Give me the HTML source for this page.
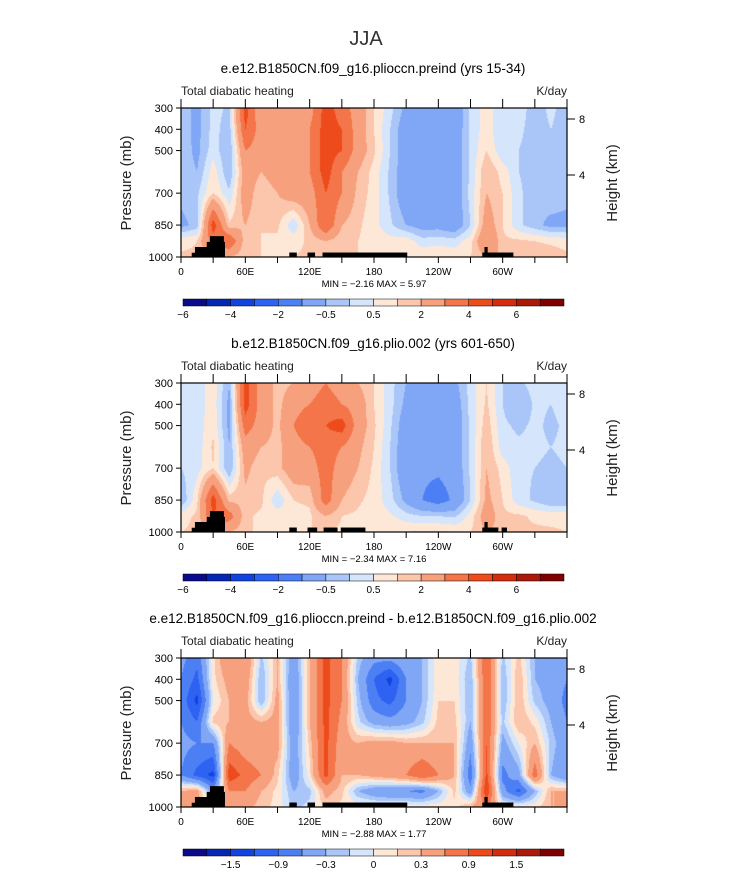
<!DOCTYPE html>
<html><head><meta charset="utf-8">
<style>
html,body{margin:0;padding:0;background:#fff;width:733px;height:888px;overflow:hidden;font-family:"Liberation Sans",sans-serif;}
#root{position:relative;width:733px;height:888px;}
canvas{position:absolute;}
svg{position:absolute;left:0;top:0;}
</style></head>
<body>
<div id="root">
<svg id="svg" width="733" height="888"></svg>
</div>
<script>
// ---- data ----
const lons = [0,15,30,45,60,75,90,105,120,135,150,165,180,195,210,225,240,255,270,285,300,315,330,345,360];
const levels = [300,400,500,600,700,850,925,1000];
const p1 = [
[-0.7,-1.2,-0.3,-0.6,3.5,1.0,1.5,1.0,1.5,3.5,2.5,1.5,0.5,-0.3,-1.2,-1.7,-1.7,-1.7,-0.4,0.3,-0.5,-0.3,-0.7,-0.4,-0.7],
[-0.7,-1.2,-0.3,-0.8,3.0,1.5,1.5,1.5,2.0,3.5,3.0,1.5,0.5,-0.5,-1.5,-1.7,-1.7,-1.6,-0.4,0.3,-0.5,-0.4,-0.7,-0.5,-0.7],
[-0.6,-1.2,-0.2,-1.0,2.0,1.5,1.0,1.5,2.0,3.5,3.0,1.5,0.6,-0.5,-1.5,-1.8,-1.7,-1.6,-0.4,0.5,-0.4,-0.5,-0.7,-0.6,-0.6],
[-0.6,-1.0,0.3,-1.0,1.5,1.0,1.5,1.5,2.0,3.5,2.0,1.0,0.3,-0.6,-1.5,-1.8,-1.8,-1.6,-0.4,1.0,0.3,-0.5,-0.7,-0.6,-0.6],
[-0.8,-0.6,0.5,-0.4,1.5,0.5,1.0,1.5,1.5,3.0,2.0,0.8,0.3,-0.6,-1.6,-1.8,-1.8,-1.6,-0.3,1.0,0.5,-0.4,-0.8,-0.6,-0.8],
[-1.2,-0.8,3.5,0.6,1.0,0.5,0.6,-0.4,1.0,3.0,1.0,0.6,0.2,-0.4,-1.0,-1.3,-1.3,-1.6,-0.5,1.5,0.5,-0.4,-0.8,-1.2,-1.2],
[0.3,0.5,2.5,3.0,0.6,0.5,0.4,0.3,0.6,1.0,0.6,0.5,0.3,0.2,0.3,-0.3,-0.2,-0.3,0.3,2.0,0.6,0.6,0.5,0.4,0.3],
[0.6,0.6,0.6,1.0,0.6,0.5,0.5,0.5,0.6,0.6,0.6,0.5,0.5,0.5,0.5,0.5,0.5,0.4,0.5,1.0,1.0,1.0,0.8,0.8,0.6]];
const p2 = [
[-0.3,-0.3,0.3,-1.0,3.5,1.5,0.8,1.0,1.5,2.0,1.5,1.0,0.5,-0.3,-1.0,-1.5,-1.5,-1.2,-0.3,0.5,-0.5,-0.6,-0.3,-0.5,-0.3],
[-0.3,-0.3,0.3,-1.2,3.5,1.5,0.8,1.5,2.0,2.5,2.0,1.5,0.5,-0.3,-1.2,-1.7,-1.7,-1.5,-0.3,0.6,-0.5,-1.0,-0.4,-0.5,-0.3],
[-0.3,-0.3,0.4,-1.2,2.5,1.5,0.8,2.0,3.0,3.0,3.5,1.5,0.6,-0.4,-1.5,-1.8,-1.8,-1.6,-0.4,0.8,-0.4,-0.6,-0.4,-0.6,-0.4],
[-0.4,-0.3,0.6,-1.0,1.5,1.0,0.8,1.5,2.0,2.5,2.0,1.2,0.5,-0.5,-1.6,-1.8,-1.8,-1.6,-0.4,1.0,-0.3,-0.4,-0.4,-0.5,-0.4],
[-0.5,-0.2,0.5,-1.0,1.2,0.6,0.8,1.5,1.5,2.5,1.5,1.0,0.4,-0.5,-1.7,-1.8,-1.8,-1.6,-0.4,1.0,0.3,-0.4,-0.5,-0.6,-0.5],
[-1.0,0.4,3.5,0.8,0.8,0.6,-0.4,0.5,0.6,2.5,1.0,0.6,0.3,-0.3,-1.2,-2.0,-2.5,-1.8,-0.5,1.2,0.5,-0.3,-0.6,-1.0,-1.0],
[0.3,0.6,3.0,2.5,0.6,0.4,0.3,0.3,0.4,1.0,0.5,0.4,0.3,0.1,-0.3,-0.5,-0.5,-0.6,0.2,1.5,0.6,0.6,0.4,0.3,0.3],
[0.5,0.6,0.6,1.0,0.6,0.4,0.4,0.4,0.5,0.5,0.4,0.4,0.4,0.5,0.5,0.6,0.6,0.5,0.5,1.0,0.8,0.6,0.6,0.6,0.5]];
const p3 = [
[-0.5,-0.8,0.1,0.6,0.6,-0.2,0.3,-0.5,0.3,1.0,0.6,-0.2,-0.5,-0.5,-0.3,-0.3,0.1,0.1,-0.2,0.9,-0.2,0.2,-0.3,-0.4,-0.5],
[-0.6,-1.0,0.1,0.4,0.5,-0.3,0.3,-0.6,0.3,1.0,0.6,-0.3,-0.9,-1.3,-0.6,-0.3,0.1,0.1,-0.3,0.9,-0.3,0.3,-0.3,-0.4,-0.6],
[-0.7,-1.3,0.0,0.3,0.4,-0.3,0.4,-0.6,0.3,1.0,0.6,-0.2,-0.8,-1.0,-0.6,-0.3,0.15,0.15,-0.3,0.9,-0.3,0.3,-0.2,-0.4,-0.7],
[-0.6,-0.9,0.2,0.3,0.4,0.3,0.4,-0.6,0.3,1.0,0.5,-0.1,-0.4,-0.5,-0.4,-0.2,0.2,0.2,-0.3,0.9,-0.2,0.3,0.1,-0.3,-0.6],
[-0.5,-0.6,-0.6,0.6,0.4,0.3,0.4,-0.5,0.2,1.0,0.4,0.3,0.4,0.4,0.3,0.3,0.3,0.3,-0.5,0.9,-0.4,0.0,0.3,-0.2,-0.5],
[-0.6,-1.0,-1.3,1.1,0.8,0.6,0.2,-0.5,0.1,1.0,0.3,0.3,0.4,0.5,0.6,0.9,0.6,0.3,-0.8,1.0,-0.7,-0.4,0.8,-0.3,-0.6],
[0.3,0.4,-0.5,0.6,0.6,0.3,0.1,-0.3,-0.2,0.4,0.2,-0.3,-0.5,-0.6,-0.6,-0.7,-0.3,0.2,-0.5,1.2,-0.5,-1.0,-0.3,0.3,0.3],
[0.3,0.4,0.2,0.4,0.4,0.2,0.1,-0.2,-0.1,0.2,0.1,0.1,0.1,0.1,0.1,0.1,0.1,0.1,0.3,0.6,0.1,0.1,0.1,0.3,0.3]];
const levA = [-6,-5,-4,-3,-2,-1,-0.5,0,0.5,1,2,3,4,5,6];
const levB = [-1.8,-1.5,-1.2,-0.9,-0.6,-0.3,-0.15,0,0.15,0.3,0.6,0.9,1.2,1.5,1.8];
const labA = ["−6","−4","−2","−0.5","0.5","2","4","6"];
const labB = ["−1.5","−0.9","−0.3","0","0.3","0.9","1.5"];
const labIdxA = [0,2,4,6,8,10,12,14];
const labIdxB = [2,4,6,8,10,12,14];
const colors = ['#0a0a8c','#0626b4','#1243e0','#2e62f2','#4d7ff4','#80a6f6','#aac5f8','#d5e5fb','#fde8d8','#fbc6ac','#f7a07d','#f37549','#ee4b1c','#d42c0c','#ab1a08','#800000'];
const topo1L0=[10,13,24,27,101,118,132,281,283], topo1L1=[41,41,41,40,108,125,211,310,286], topo1P=[980,953,929,902,979,979,979,979,953];
const topo2L0=[10,13,24,27,101,118,124,133,149,281,283,299], topo2L1=[41,41,41,40,108,125,127,146,172,296,286,304], topo2P=[980,953,929,902,979,979,979,979,979,979,953,979];
const xTickLabels=["0","60E","120E","180","120W","60W"];
const xTickLons=[0,60,120,180,240,300];
const yTicks=[300,400,500,700,850,1000];
const zTicks=["8","4"], zTickY=[11,67];

// ---- layout ----
const X0=181,X1=567;
const panels=[
 {top:108,data:p1,lev:levA,lab:labA,labIdx:labIdxA,title:"e.e12.B1850CN.f09_g16.plioccn.preind (yrs 15-34)",mm:"MIN =   −2.16   MAX =      5.97",tl0:topo1L0,tl1:topo1L1,tp:topo1P},
 {top:383,data:p2,lev:levA,lab:labA,labIdx:labIdxA,title:"b.e12.B1850CN.f09_g16.plio.002 (yrs 601-650)",mm:"MIN =   −2.34   MAX =      7.16",tl0:topo2L0,tl1:topo2L1,tp:topo2P},
 {top:658,data:p3,lev:levB,lab:labB,labIdx:labIdxB,title:"e.e12.B1850CN.f09_g16.plioccn.preind - b.e12.B1850CN.f09_g16.plio.002",mm:"MIN =   −2.88   MAX =      1.77",tl0:topo1L0,tl1:topo1L1,tp:topo1P}];
const H=149;
const NS="http://www.w3.org/2000/svg";
const svg=document.getElementById('svg');
const root=document.getElementById('root');
function xs(lon){return X0+(X1-X0)*lon/360;}
function ys(top,p){return top+H*(p-300)/700;}
function el(tag,attrs,parent){const e=document.createElementNS(NS,tag);for(const k in attrs)e.setAttribute(k,attrs[k]);(parent||svg).appendChild(e);return e;}
function txt(x,y,s,size,anchor,extra){const t=el('text',Object.assign({x:x,y:y,'font-size':size,'text-anchor':anchor||'start',fill:'#000','font-family':'Liberation Sans, sans-serif'},extra||{}));t.textContent=s;return t;}
function colorIdx(v,lev){let i=0;while(i<lev.length&&v>=lev[i])i++;return i;}
function hex(c){return [parseInt(c.substr(1,2),16),parseInt(c.substr(3,2),16),parseInt(c.substr(5,2),16)];}
const rgb=colors.map(hex);

const t0=txt(366,45,"JJA",20,'middle',{'font-weight':'300',fill:'#333'});



panels.forEach((P,pi)=>{
  const W=X1-X0;
  const cv=document.createElement('canvas');
  cv.width=W;cv.height=H;cv.style.left=X0+'px';cv.style.top=P.top+'px';
  
  
  root.insertBefore(cv,svg);
  const ctx=cv.getContext('2d');const img=ctx.createImageData(W,H);
  for(let py=0;py<H;py++){
    const p=300+700*(py+0.5)/H;
    let r=0;while(r<levels.length-2&&p>levels[r+1])r++;
    const fy=(p-levels[r])/(levels[r+1]-levels[r]);
    for(let px=0;px<W;px++){
      const lon=360*(px+0.5)/W;
      let c=Math.min(Math.floor(lon/15),lons.length-2);
      const fx=(lon-lons[c])/15;
      const d=P.data;
      const v=(d[r][c]*(1-fx)+d[r][c+1]*fx)*(1-fy)+(d[r+1][c]*(1-fx)+d[r+1][c+1]*fx)*fy;
      const k=rgb[colorIdx(v,P.lev)];const o=(py*W+px)*4;
      img.data[o]=k[0];img.data[o+1]=k[1];img.data[o+2]=k[2];img.data[o+3]=255;
    }
  }
  ctx.putImageData(img,0,0);
  for(let i=0;i<P.tl0.length;i++){
    const yT=ys(P.top,P.tp[i]);
    const rc=el('rect',{x:xs(P.tl0[i]),y:yT,width:xs(P.tl1[i])-xs(P.tl0[i]),height:P.top+H-yT,fill:'#000'});
    
    
  }
  const fr=el('rect',{x:X0,y:P.top,width:W,height:H,fill:'none',stroke:'#000','stroke-width':1.2});
  
  
  for(let lon=0;lon<=360;lon+=30){
    const x=xs(lon);
    el('line',{x1:x,x2:x,y1:P.top+H,y2:P.top+H+6,stroke:'#000','stroke-width':1});
    el('line',{x1:x,x2:x,y1:P.top,y2:P.top-9,stroke:'#000','stroke-width':1});
  }
  xTickLons.forEach((lon,i)=>{const t=txt(xs(lon),P.top+H+18,xTickLabels[i],10,'middle');
    
    });
  yTicks.forEach(p=>{const y=ys(P.top,p);el('line',{x1:X0-5,x2:X0,y1:y,y2:y,stroke:'#000'});
    const t=txt(X0-8,y+4,String(p),11,'end');
    
    });
  zTicks.forEach((s,i)=>{const y=P.top+zTickY[i];el('line',{x1:X1,x2:X1+8,y1:y,y2:y,stroke:'#000'});
    const t=txt(X1+12,y+4,s,11,'start');
    
    });
  const yl=txt(0,0,"Pressure (mb)",15,'middle',{transform:`translate(131,${P.top+75}) rotate(-90)`,fill:'#222'});
  
  
  const zl=txt(0,0,"Height (km)",15,'middle',{transform:`translate(617,${P.top+75}) rotate(-90)`,fill:'#222'});
  
  
  const tt=txt(373,P.top-35,P.title,13.5,'middle');
  
  
  const lt=txt(X0,P.top-13,"Total diabatic heating",12,'start',{fill:'#222'});
  
  
  const ut=txt(X1,P.top-13,"K/day",12,'end',{fill:'#222'});
  
  
  const mm=txt(374,P.top+H+30,P.mm,9.5,'middle',{'xml:space':'preserve'});
  
  
  const cb0=183,cb1=564,cy=P.top+191,ch=7,bw=(cb1-cb0)/16;
  colors.forEach((c,i)=>{const r=el('rect',{x:cb0+i*bw,y:cy,width:bw,height:ch,fill:c,stroke:'#000','stroke-width':0.5});
    
    });
  P.labIdx.forEach((bi,i)=>{const t=txt(cb0+bi*bw,cy+ch+12,P.lab[i],10,'middle');
    
    });
});
</script>
</body></html>
